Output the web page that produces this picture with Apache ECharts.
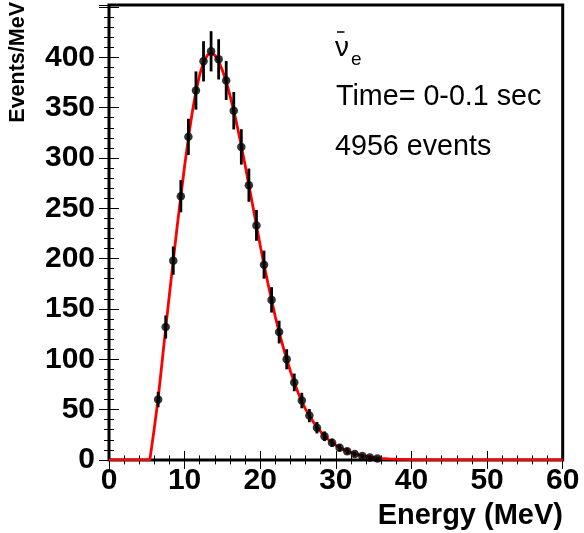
<!DOCTYPE html>
<html>
<head>
<meta charset="utf-8">
<script src="https://cdn.jsdelivr.net/npm/echarts@6.0.0/dist/echarts.min.js"></script>
<style>
  html, body { margin: 0; padding: 0; background: #fff; }
  #chart { width: 584px; height: 533px; }
</style>
</head>
<body>
<div id="chart"></div>
<script>
// ---- data ----
const binCenters = [6.5, 7.5, 8.5, 9.5, 10.5, 11.5, 12.5, 13.5, 14.5, 15.5, 16.5, 17.5, 18.5, 19.5, 20.5,
  21.5, 22.5, 23.5, 24.5, 25.5, 26.5, 27.5, 28.5, 29.5, 30.5, 31.5, 32.5, 33.5, 34.5, 35.5];
const counts = [60, 132, 198, 262, 321, 367, 396, 406, 398, 377, 347, 311, 273, 233, 194,
  159, 127, 100, 77, 59, 44, 32, 23.5, 17, 12, 8.6, 5.9, 3.9, 2.5, 1.5];
const errors = [7.7, 11.5, 14, 16, 18, 19, 20, 20, 20, 19.4, 18.6, 17.6, 16.5, 15.3, 13.9,
  12.6, 11.3, 10, 8.8, 7.7, 6.6, 5.7, 4.8, 4.1, 3.5, 2.9, 2.4, 2.0, 1.6, 1.2];

const fitX = [0, 5.4, 6.0, 6.5, 7.0, 7.5, 8.0, 8.5, 9.0, 9.5, 10, 10.5, 11, 11.5, 12, 12.5, 13, 13.5, 14, 14.5,
  15, 15.5, 16, 16.5, 17, 17.5, 18, 18.5, 19, 19.5, 20, 20.5, 21, 21.5, 22, 22.5, 23, 23.5, 24, 24.5,
  25, 25.5, 26, 26.5, 27, 27.5, 28, 28.5, 29, 29.5, 30, 30.5, 31, 31.5, 32, 32.5, 33, 33.5, 34, 35,
  36, 37, 38, 40, 43, 46, 50, 60];
const fitY = [0, 0, 32, 61, 96, 131, 165, 198, 231, 262, 292, 320, 345, 366, 383, 395, 402, 404, 402, 396,
  387, 376, 362, 347, 330, 312, 293, 273, 253, 233, 213, 194, 176, 159, 142, 127, 113, 100, 88, 77,
  67, 58, 50.5, 44, 38, 32.5, 28, 23.8, 20.3, 17.2, 14.6, 12.3, 10.4, 8.7, 7.3, 6.1, 5.1, 4.2, 3.5, 2.4,
  1.6, 1.1, 0.7, 0.3, 0.1, 0.03, 0, 0];

const xTicks = { min: 0, max: 60, interval: 10 };
const yTicks = { min: 0, max: 452, interval: 50 };

const labels = {
  xTitle: 'Energy (MeV)',
  yTitle: 'Events/MeV',
  nu: 'ν',
  nuSub: 'e',
  time: 'Time= 0-0.1 sec',
  events: '4956 events'
};

// ---- chart ----
const chart = echarts.init(document.getElementById('chart'), null, { renderer: 'canvas' });
const FONT = 'Liberation Sans, Arial, Helvetica, sans-serif';

function makeX(pos, showLabel) {
  return {
    type: 'value', position: pos, min: xTicks.min, max: xTicks.max, interval: xTicks.interval,
    axisLine: { show: false },
    axisTick: { show: true, inside: true, length: 9, lineStyle: { color: '#000', width: 1 } },
    minorTick: { show: true, splitNumber: 5, length: 4.5, lineStyle: { color: '#000', width: 1 } },
    splitLine: { show: false },
    axisLabel: { show: showLabel, margin: 6, color: '#000', fontFamily: FONT, fontWeight: 'bold', fontSize: 30 }
  };
}
function makeY(pos, showLabel) {
  return {
    type: 'value', position: pos, min: yTicks.min, max: yTicks.max, interval: yTicks.interval,
    axisLine: { show: false },
    axisTick: { show: true, inside: true, length: 10, lineStyle: { color: '#000', width: 1 } },
    minorTick: { show: true, splitNumber: 5, length: 5, lineStyle: { color: '#000', width: 1 } },
    splitLine: { show: false },
    axisLabel: { show: showLabel, margin: 14, color: '#000', fontFamily: FONT, fontWeight: 'bold', fontSize: 30,
      formatter: v => (v >= 450 ? '' : String(v)) }
  };
}

const option = {
  animation: false,
  backgroundColor: '#fff',
  grid: { left: 109, right: 21.3, top: 5, bottom: 73.1, show: true, borderColor: '#000', borderWidth: 3, backgroundColor: 'transparent' },
  xAxis: [makeX('bottom', true), makeX('top', false)],
  yAxis: [makeY('left', true), makeY('right', false)],
  series: [
    {
      type: 'line', xAxisIndex: 0, yAxisIndex: 0,
      data: fitX.map((x, i) => [x, fitY[i]]),
      showSymbol: false, symbol: 'none', smooth: false,
      lineStyle: { color: '#ff0000', width: 2.8 }, z: 2
    },
    {
      type: 'custom', xAxisIndex: 0, yAxisIndex: 0,
      data: binCenters.map((x, i) => [x, counts[i], errors[i]]),
      encode: { x: 0, y: 1 },
      renderItem: function (params, api) {
        const x = api.value(0), y = api.value(1), e = api.value(2);
        const p1 = api.coord([x, y - e]);
        const p2 = api.coord([x, y + e]);
        return { type: 'line', shape: { x1: p1[0], y1: p1[1], x2: p2[0], y2: p2[1] },
          style: { stroke: '#000', lineWidth: 2.8 } };
      },
      z: 3
    },
    {
      type: 'scatter', xAxisIndex: 0, yAxisIndex: 0,
      data: binCenters.map((x, i) => [x, counts[i]]),
      symbol: 'circle', symbolSize: 8.5,
      itemStyle: { color: '#000' }, z: 4
    }
  ],
  graphic: [
    { type: 'text', x: 563, y: 516, style: { text: labels.xTitle, textAlign: 'right', textVerticalAlign: 'middle',
        font: 'bold 29px ' + FONT, fill: '#000' } },
    { type: 'text', x: 18.5, y: 2, rotation: Math.PI / 2, style: { text: labels.yTitle, textAlign: 'right', textVerticalAlign: 'middle',
        font: 'bold 21.5px ' + FONT, fill: '#000' } },
    { type: 'text', x: 335, y: 48, style: { text: labels.nu, textAlign: 'left', textVerticalAlign: 'middle',
        font: '28px ' + FONT, fill: '#000' } },
    { type: 'line', shape: { x1: 337, y1: 32, x2: 344.5, y2: 32 }, style: { stroke: '#000', lineWidth: 1.5 } },
    { type: 'text', x: 351, y: 60, style: { text: labels.nuSub, textAlign: 'left', textVerticalAlign: 'middle',
        font: '19px ' + FONT, fill: '#000' } },
    { type: 'text', x: 336, y: 97, style: { text: labels.time, textAlign: 'left', textVerticalAlign: 'middle',
        font: '28.7px ' + FONT, fill: '#000' } },
    { type: 'text', x: 335, y: 147, style: { text: labels.events, textAlign: 'left', textVerticalAlign: 'middle',
        font: '28.7px ' + FONT, fill: '#000' } }
  ]
};
chart.setOption(option);
</script>
</body>
</html>
